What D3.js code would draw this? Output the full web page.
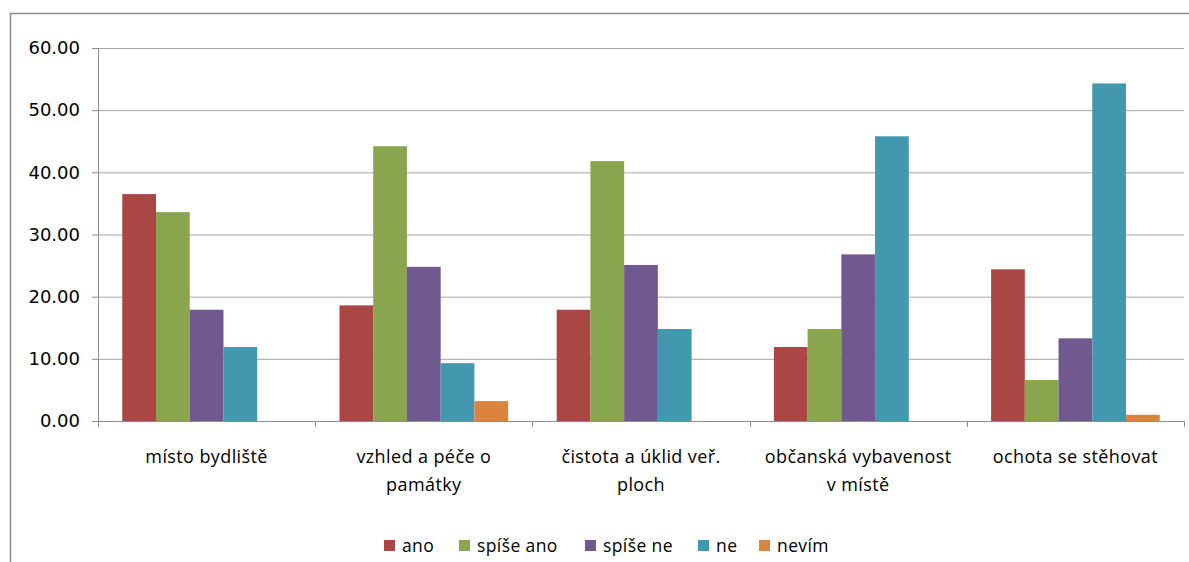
<!DOCTYPE html>
<meta charset="utf-8">
<style>
  body { margin: 0; background: #fff; }
  svg { display: block; }
</style>
<svg width="1189" height="562"></svg>
<script src="https://d3js.org/d3.v7.min.js"></script>
<script>
// categories (line breaks as in the original axis labels)
var categories = [
  "místo bydliště",
  "vzhled a péče o\npamátky",
  "čistota a úklid veř.\nploch",
  "občanská vybavenost\nv místě",
  "ochota se stěhovat"
]
var seriesNames = ["ano", "spíše ano", "spíše ne", "ne", "nevím"]
var seriesColors = ["#AA4644", "#89A54E", "#71588F", "#4198AF", "#DB843D"]

// values per series, one per category
var ano      = [36.5, 18.6, 17.9, 11.9, 24.4]
var spiseAno = [33.6, 44.2, 41.8, 14.8, 6.6]
var spiseNe  = [17.9, 24.8, 25.1, 26.8, 13.3]
var ne       = [11.9,  9.3, 14.8, 45.8, 54.3]
var nevim    = [ 0.0,  3.2,  0.0,  0.0,  1.0]
var seriesValues = [ano, spiseAno, spiseNe, ne, nevim]

var yTicks = [0, 10, 20, 30, 40, 50, 60]

var svg = d3.select('svg')

// outer chart border (cut at right and bottom like the original)
svg.append('path')
  .attr('d', 'M10.5,562 L10.5,13.5 L1189,13.5')
  .attr('fill', 'none')
  .attr('stroke', '#8c8c8c')
  .attr('stroke-width', 1.5)

var plotLeft = 98, plotRight = 1184, plotTop = 48, plotBottom = 421

var x0 = d3.scaleBand().domain(d3.range(categories.length)).range([plotLeft, plotRight])
var x1 = d3.scaleBand().domain(d3.range(seriesNames.length))
  .range([0, x0.bandwidth()]).paddingInner(0).paddingOuter(0.72)
var y = d3.scaleLinear().domain([0, 60]).range([plotBottom, plotTop])

// gridlines
svg.append('g')
  .attr('transform', 'translate(' + plotLeft + ',0)')
  .call(d3.axisLeft(y).tickValues(yTicks).tickSize(-(plotRight - plotLeft)).tickFormat(''))
  .call(function (g) {
    g.select('.domain').remove()
    g.selectAll('line').attr('stroke', '#a6a6a6')
  })

// bars
var groups = svg.append('g').selectAll('g')
  .data(categories)
  .join('g')
  .attr('transform', function (d, i) { return 'translate(' + x0(i) + ',0)' })

groups.selectAll('rect')
  .data(function (d, i) {
    return seriesValues.map(function (vals, s) { return { s: s, v: vals[i] } })
  })
  .join('rect')
  .attr('x', function (d) { return x1(d.s) })
  .attr('width', x1.bandwidth())
  .attr('y', function (d) { return y(d.v) })
  .attr('height', function (d) { return plotBottom - y(d.v) })
  .attr('fill', function (d) { return seriesColors[d.s] })

// y axis
svg.append('g')
  .attr('transform', 'translate(' + plotLeft + ',0)')
  .call(d3.axisLeft(y).tickValues(yTicks).tickSize(6).tickPadding(12).tickFormat(d3.format('.2f')))
  .call(function (g) {
    g.select('.domain').attr('stroke', '#8c8c8c').attr('d', 'M0.5,' + plotTop + 'V' + (plotBottom + 4))
    g.selectAll('line').attr('stroke', '#8c8c8c')
    g.selectAll('text')
      .attr('font-family', 'DejaVu Sans')
      .attr('font-size', 18)
      .attr('fill', '#000')
  })

// x axis baseline and category ticks
var xAxis = svg.append('g')
xAxis.append('line')
  .attr('x1', plotLeft).attr('x2', plotRight)
  .attr('y1', plotBottom + 0.5).attr('y2', plotBottom + 0.5)
  .attr('stroke', '#8c8c8c')
xAxis.selectAll('line.tick')
  .data(d3.range(categories.length + 1))
  .join('line')
  .attr('class', 'tick')
  .attr('x1', function (i) { return Math.round(plotLeft + i * x0.step()) + 0.5 })
  .attr('x2', function (i) { return Math.round(plotLeft + i * x0.step()) + 0.5 })
  .attr('y1', plotBottom).attr('y2', plotBottom + 6)
  .attr('stroke', '#8c8c8c')

xAxis.selectAll('text.cat')
  .data(categories)
  .join('text')
  .attr('class', 'cat')
  .attr('text-anchor', 'middle')
  .attr('font-family', 'Open Sans')
  .attr('font-size', 18)
  .attr('letter-spacing', 0.4)
  .attr('fill', '#000')
  .each(function (d, i) {
    var t = d3.select(this)
    d.split('\n').forEach(function (line, k) {
      t.append('tspan')
        .attr('x', x0(i) + x0.bandwidth() / 2)
        .attr('y', 463 + k * 28)
        .text(line)
    })
  })

// legend
var legendX = [384, 459, 585, 698, 759]
var legend = svg.append('g').selectAll('g')
  .data(seriesNames)
  .join('g')
  .attr('transform', function (d, i) { return 'translate(' + legendX[i] + ',540)' })
legend.append('rect')
  .attr('width', 11).attr('height', 11)
  .attr('fill', function (d, i) { return seriesColors[i] })
legend.append('text')
  .attr('x', 18).attr('y', 12)
  .attr('font-family', 'Open Sans')
  .attr('font-size', 17.5)
  .attr('letter-spacing', 0.4)
  .attr('fill', '#000')
  .text(function (d) { return d })
</script>
